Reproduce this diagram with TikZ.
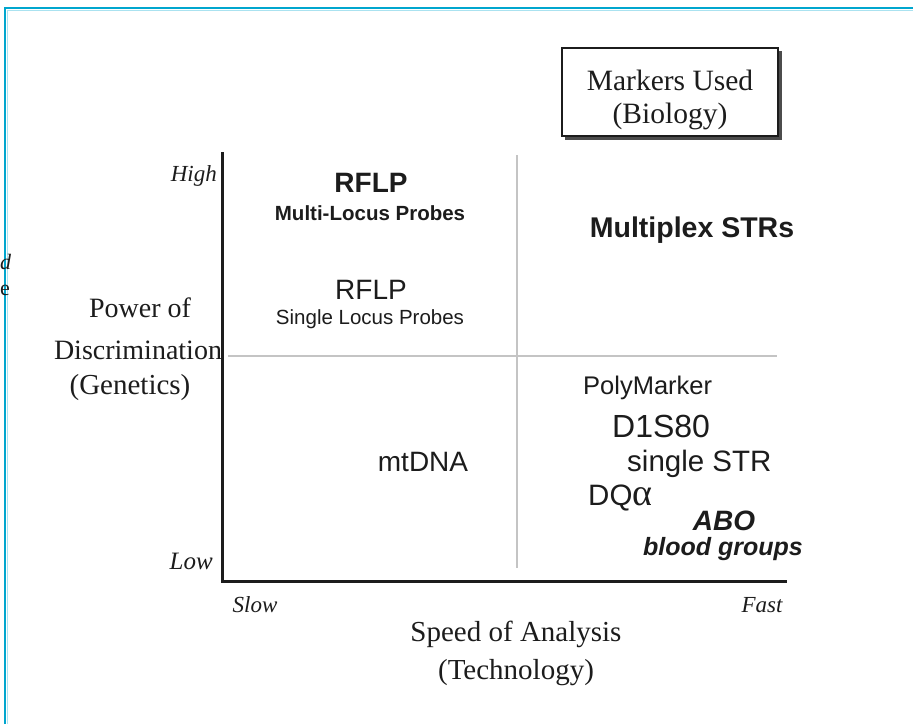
\documentclass[tikz,border=0pt]{standalone}
\usepackage{fontspec}
\setmainfont{Liberation Serif}
\setsansfont{Liberation Sans}
\usetikzlibrary{calc}
\newcommand\myfs[1]{\fontsize{#1}{#1}\selectfont}
\definecolor{bordercyan}{RGB}{0,166,206}
\definecolor{borderlight}{RGB}{170,226,240}
\definecolor{divgray}{RGB}{196,196,196}
\definecolor{inkdark}{RGB}{28,28,28}
\begin{document}
\begin{tikzpicture}[x=1pt,y=-1pt,
  lbl/.style={inner sep=0pt, text=inkdark},
  serifbig/.style={lbl, font=\rmfamily\myfs{28}},
  serifit/.style={lbl, font=\rmfamily\itshape\myfs{23}},
  axisline/.style={line width=3pt, inkdark},
  divider/.style={line width=1.8pt, divgray},
  keybox/.style={draw=inkdark, line width=1.3pt, minimum width=216pt, minimum height=88pt, inner sep=0pt}
]
\useasboundingbox (0,0) rectangle (913,724);
\fill[white] (0,0) rectangle (913,724);

% page border
\coordinate (bl) at (5,724);
\coordinate (tl) at (5,8);
\coordinate (tr) at (913,8);
\draw[borderlight, line width=1.2pt] (7.5,724) -- (7.5,10.5) -- (913,10.5);
\draw[bordercyan, line width=2.2pt] (bl) -- (tl) -- (tr);

% cut-off fragments at the left edge
\node[lbl, font=\rmfamily\itshape\myfs{22}, anchor=west] (fragd) at (0,262) {d};
\node[lbl, font=\rmfamily\myfs{22}, anchor=west] (frage) at (0,290) {e};

% key box
\node[keybox] (key) at (670,92) {};
\draw[line width=3pt, gray!60!black] ($(key.north east)+(2,4)$) -- ($(key.south east)+(2,2)$) -- ($(key.south west)+(4,2)$);
\node[lbl, font=\rmfamily\myfs{29.5}] (key1) at (670,80) {Markers Used};
\node[lbl, font=\rmfamily\myfs{29.5}] (key2) at (670,116) {(Biology)};

% dividers
\coordinate (vtop) at (517,155);
\coordinate (vbot) at (517,568);
\coordinate (hl) at (228,356);
\coordinate (hr) at (777,356);
\draw[divider] (vtop) -- (vbot);
\draw[divider] (hl) -- (hr);

% axes
\coordinate (ytop) at (222,152);
\coordinate (xend) at (787,581);
\draw[axisline] (ytop) |- (xend);

% axis end labels
\node[serifit, anchor=east] (high) at (217,176) {High};
\node[serifit, font=\rmfamily\itshape\myfs{25}, anchor=east] (low) at (213,561) {Low};
\node[serifit] (slow) at (255,605) {Slow};
\node[serifit] (fast) at (762,605) {Fast};

% axis titles
\node[serifbig, font=\rmfamily\myfs{29}] (xt1) at (516,634) {Speed of Analysis};
\node[serifbig, font=\rmfamily\myfs{29}] (xt2) at (516,673) {(Technology)};
\node[serifbig] (yt1) at (140,308) {Power of};
\node[serifbig] (yt2) at (138,350) {Discrimination};
\node[serifbig, font=\rmfamily\myfs{29}] (yt3) at (130,388) {(Genetics)};

% quadrant contents
\node[lbl, font=\sffamily\bfseries\myfs{28}] (rflp1) at (371,183) {RFLP};
\node[lbl, font=\sffamily\bfseries\myfs{20.5}] (mlp) at (370,213) {Multi-Locus Probes};
\node[lbl, font=\sffamily\bfseries\myfs{28.5}] (mstr) at (692,230) {Multiplex STRs};
\node[lbl, font=\sffamily\myfs{28}] (rflp2) at (371,290) {RFLP};
\node[lbl, font=\sffamily\myfs{20.5}] (slp) at (370,319) {Single Locus Probes};
\node[lbl, font=\sffamily\myfs{28}] (mt) at (423,462) {mtDNA};
\node[lbl, font=\sffamily\myfs{25.5}, anchor=west] (poly) at (583,388) {PolyMarker};
\node[lbl, font=\sffamily\myfs{32}, anchor=west] (d1s) at (612,426) {D1S80};
\node[lbl, font=\sffamily\myfs{29.5}, anchor=west] (sstr) at (627,464) {single STR};
\node[lbl, font=\sffamily\myfs{29.5}, anchor=west] (dqa) at (588,498) {DQ{\rmfamily\myfs{38}α}};
\node[lbl, font=\sffamily\bfseries\itshape\myfs{28}] (abo) at (724,521) {ABO};
\node[lbl, font=\sffamily\bfseries\itshape\myfs{25}] (bg) at (723,549) {blood groups};
\end{tikzpicture}
\end{document}
